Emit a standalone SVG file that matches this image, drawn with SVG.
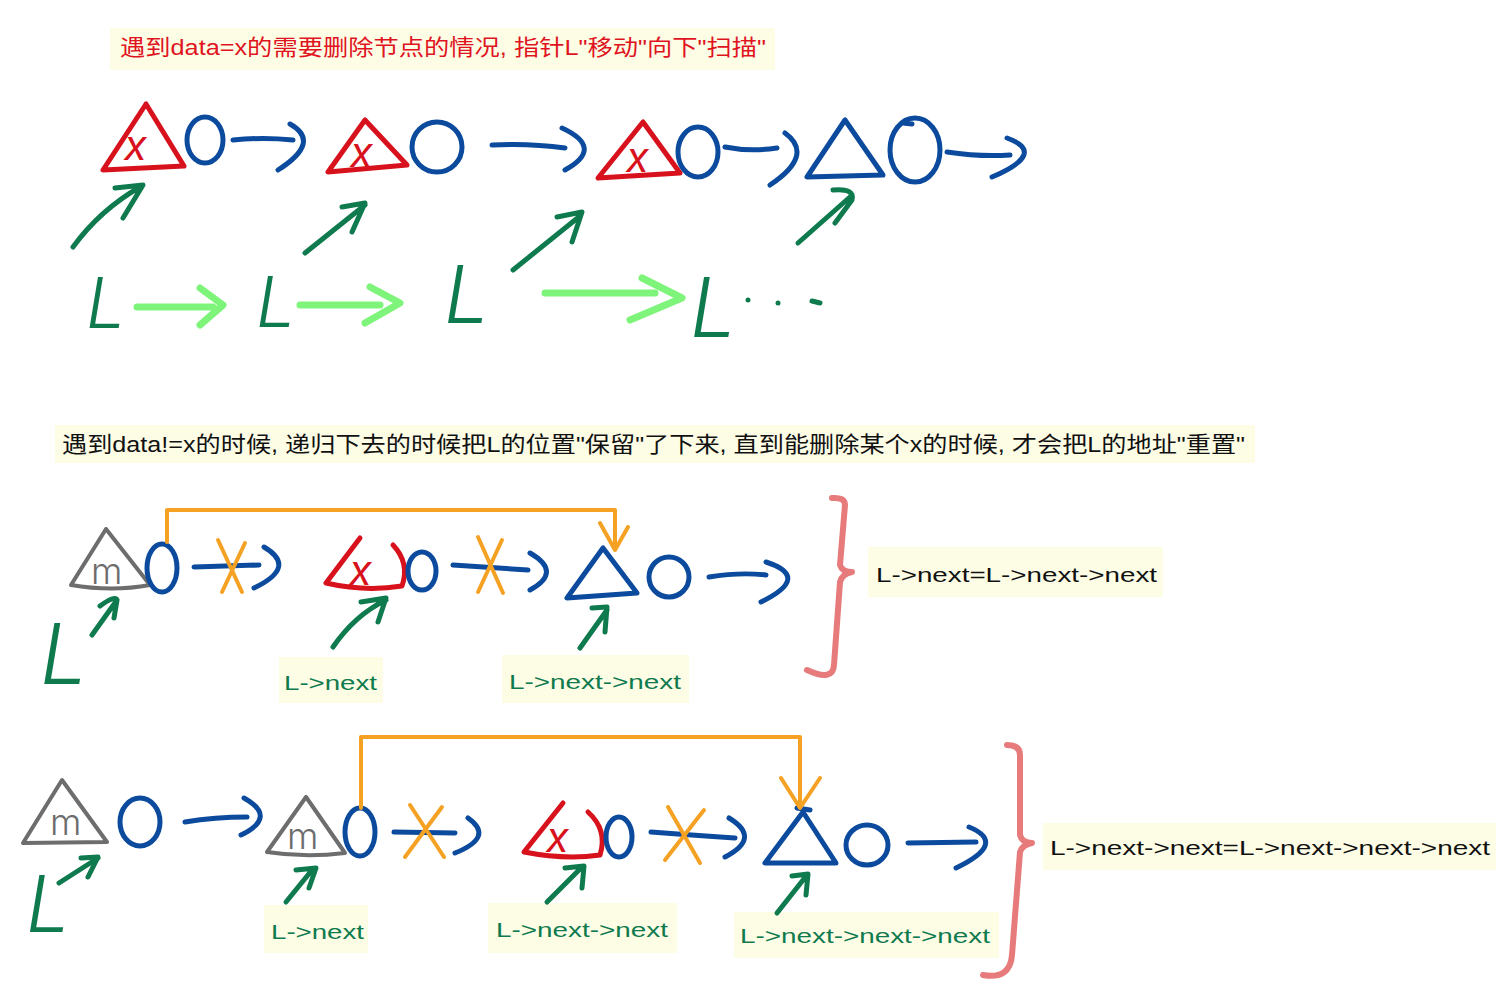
<svg xmlns="http://www.w3.org/2000/svg" width="1496" height="1000" viewBox="0 0 1496 1000">
<style>
.s{fill:none;stroke-linecap:round;stroke-linejoin:round;stroke-width:5}
.b{stroke:#0b4a9c}.r{stroke:#d8121d}.dg{stroke:#0e7a4e}.lg{stroke:#7ef57a;stroke-width:7}
.o{stroke:#f5a224;stroke-width:4}.g{stroke:#6d6d6d;stroke-width:4}.pk{stroke:#e77a7a;stroke-width:6}
.bg{fill:#fdfde6}
.t{font-family:"Liberation Sans","Noto Sans CJK SC",sans-serif;font-size:22px}
.lab{font-family:"Liberation Sans",sans-serif;font-size:21px}
.L{font-family:Inter,"Liberation Sans",sans-serif;font-weight:300;font-style:italic;fill:#0e7a4e}
.xm{font-family:Inter,"Liberation Sans",sans-serif;font-weight:400;font-style:italic;fill:#d8121d;font-size:42px}
.mm{font-family:Inter,"Liberation Sans",sans-serif;font-weight:300;fill:#6d6d6d;font-size:36px}
</style>
<rect width="1496" height="1000" fill="#ffffff"/>

<g id="title1">
<rect class="bg" x="110" y="28" width="665" height="42"/>
<text class="t" x="120" y="55" fill="#e0141e" textLength="646" lengthAdjust="spacingAndGlyphs">遇到data=x的需要删除节点的情况, 指针L"移动"向下"扫描"</text>
</g>
<g id="title2">
<rect class="bg" x="55" y="425" width="1200" height="38"/>
<text class="t" x="62" y="452" fill="#111" textLength="1183" lengthAdjust="spacingAndGlyphs">遇到data!=x的时候, 递归下去的时候把L的位置"保留"了下来, 直到能删除某个x的时候, 才会把L的地址"重置"</text>
</g>

<!-- Row 1 nodes -->
<g id="r1n1"><path class="s r" d="M146,104 L103,170 L184,166 Z"/><text class="xm" x="124" y="160">x</text><ellipse class="s b" cx="205" cy="140" rx="18" ry="23"/></g>
<g id="r1n2"><path class="s r" d="M365,120 L328,172 L407,165 Z"/><text class="xm" x="350" y="167" font-size="36">x</text><ellipse class="s b" cx="437" cy="147" rx="25" ry="25"/></g>
<g id="r1n3"><path class="s r" d="M643,122 L598,178 L680,173 Z"/><text class="xm" x="626" y="172">x</text><ellipse class="s b" cx="698" cy="152" rx="20" ry="25"/></g>
<g id="r1n4"><path class="s b" d="M845,120 L807,177 L883,175 Z"/><ellipse class="s b" cx="915" cy="150" rx="25" ry="32"/><path class="s b" d="M903,123 L912,124"/></g>
<g id="r1L">
<text class="L" x="86" y="328" font-size="70">L</text>
<text class="L" x="256" y="327" font-size="70">L</text>
<text class="L" x="444" y="323" font-size="80">L</text>
<text class="L" x="690" y="337" font-size="82">L</text>
<circle cx="748" cy="300" r="2.5" fill="#0e7a4e"/><circle cx="778" cy="303" r="2.5" fill="#0e7a4e"/><path class="s dg" d="M812,301 L820,303" stroke-width="4"/>
</g>

<!-- Row 2 nodes -->
<g id="r2n1"><path class="s g" d="M106,529 L71,585 Q112,592 150,585 L106,529"/><text class="mm" x="91" y="584" font-size="34">m</text><ellipse class="s b" cx="162" cy="568" rx="15" ry="24"/></g>
<g id="r2n2"><path class="s r" d="M360,538 L326,583 Q365,592 402,586 Q410,563 393,545"/><text class="xm" x="349" y="585" font-size="36">x</text><ellipse class="s b" cx="422" cy="571" rx="14" ry="19"/></g>
<g id="r2n3"><path class="s b" d="M603,548 L567,598 L637,593 Z"/><ellipse class="s b" cx="669" cy="577" rx="20" ry="20"/></g>
<g id="r2L"><text class="L" x="40" y="684" font-size="84">L</text></g>
<g id="r2lab">
<rect class="bg" x="279" y="657" width="104" height="46"/><text class="lab" x="284" y="690" fill="#0e7a4e" textLength="93" lengthAdjust="spacingAndGlyphs">L->next</text>
<rect class="bg" x="502" y="655" width="187" height="48"/><text class="lab" x="509" y="689" fill="#0e7a4e" textLength="172" lengthAdjust="spacingAndGlyphs">L->next->next</text>
<rect class="bg" x="868" y="547" width="295" height="50"/><text class="lab" x="876" y="582" fill="#111" textLength="281" lengthAdjust="spacingAndGlyphs">L->next=L->next->next</text>
</g>

<!-- Row 3 nodes -->
<g id="r3n1"><path class="s g" d="M62,780 L23,843 L107,842 Z"/><text class="mm" x="50" y="835" font-size="38">m</text><ellipse class="s b" cx="140" cy="822" rx="20" ry="24"/></g>
<g id="r3n2"><path class="s g" d="M306,797 L267,852 Q305,858 345,853 L306,797"/><text class="mm" x="287" y="849" font-size="34">m</text><ellipse class="s b" cx="360" cy="832" rx="15" ry="24"/></g>
<g id="r3n3"><path class="s r" d="M563,803 L524,852 Q565,860 600,855 Q608,830 588,812"/><text class="xm" x="546" y="852" font-size="36">x</text><ellipse class="s b" cx="619" cy="837" rx="13" ry="20"/></g>
<g id="r3n4"><path class="s b" d="M803,812 L765,863 L836,863 Z"/><path class="s b" d="M797,808 L810,810"/><ellipse class="s b" cx="867" cy="845" rx="21" ry="20"/></g>
<g id="r3L"><text class="L" x="26" y="932" font-size="78">L</text></g>
<g id="r3lab">
<rect class="bg" x="264" y="905" width="104" height="48"/><text class="lab" x="271" y="939" fill="#0e7a4e" textLength="93" lengthAdjust="spacingAndGlyphs">L->next</text>
<rect class="bg" x="488" y="903" width="189" height="50"/><text class="lab" x="496" y="937" fill="#0e7a4e" textLength="172" lengthAdjust="spacingAndGlyphs">L->next->next</text>
<rect class="bg" x="734" y="912" width="265" height="46"/><text class="lab" x="740" y="943" fill="#0e7a4e" textLength="250" lengthAdjust="spacingAndGlyphs">L->next->next->next</text>
<rect class="bg" x="1043" y="823" width="453" height="47"/><text class="lab" x="1050" y="855" fill="#111" textLength="440" lengthAdjust="spacingAndGlyphs">L->next->next=L->next->next->next</text>
</g>

<g id="connectors">
<path class="s b" d="M233,140 Q263,137 293,140 M290,124 Q322,142 278,170"/>
<path class="s b" d="M492,145 Q530,143 565,148 M562,128 Q605,148 565,170"/>
<path class="s b" d="M725,147 Q750,152 777,148 M785,133 Q815,155 770,185"/>
<path class="s b" d="M947,152 Q980,157 1010,155 M1007,138 Q1048,153 992,177"/>
<path class="s dg" d="M73,247 Q100,210 140,187 M115,188 L143,185 L123,218"/>
<path class="s dg" d="M305,253 L365,205 M342,207 L365,203 L352,232"/>
<path class="s dg" d="M513,270 L580,216 M557,217 L582,212 L572,242"/>
<path class="s dg" d="M798,243 L850,197 M833,190 Q855,188 852,200 L835,223"/>
<path class="s lg" d="M137,307 L213,307 M200,288 L223,305 L200,325"/>
<path class="s lg" d="M300,305 L380,305 M370,287 L400,303 L365,323"/>
<path class="s lg" d="M545,293 L655,293 M642,278 L682,298 L630,320"/>

<path class="s b" d="M194,567 L259,565 M264,547 Q298,567 254,588"/>
<path class="s b" d="M453,565 L528,570 M530,553 Q563,572 530,590"/>
<path class="s b" d="M709,577 Q740,572 766,575 M766,562 Q812,577 761,602"/>
<path class="s o" d="M218,540 L242,592 M245,543 L222,592"/>
<path class="s o" d="M478,537 L503,593 M502,540 L478,592"/>
<path class="s o" d="M167,542 L167,510 L615,510 L615,548 M600,523 L615,550 L628,527"/>
<path class="s dg" d="M92,635 L117,600 M100,606 Q115,595 117,600 L114,618"/>
<path class="s dg" d="M333,647 Q355,615 386,600 M361,602 L386,598 L378,622"/>
<path class="s dg" d="M580,648 L607,610 M592,608 L607,607 L605,632"/>
<path class="s pk" d="M832,498 Q845,497 845,505 L840,565 Q842,572 852,572 Q842,574 840,582 L834,665 Q833,682 807,670"/>

<path class="s b" d="M185,822 Q215,817 247,817 M244,798 Q278,817 241,835"/>
<path class="s b" d="M394,832 L455,833 M468,818 Q495,837 455,853"/>
<path class="s b" d="M651,832 Q690,835 735,838 M729,818 Q762,838 725,857"/>
<path class="s b" d="M908,843 L976,842 M969,827 Q1008,843 956,868"/>
<path class="s o" d="M410,805 L444,857 M442,807 L405,857"/>
<path class="s o" d="M668,807 L700,863 M704,810 L665,860"/>
<path class="s o" d="M361,808 L361,737 L800,737 L800,808 M781,778 L800,808 L820,778"/>
<path class="s dg" d="M59,883 L98,858 M81,858 L98,857 L88,877"/>
<path class="s dg" d="M286,902 L312,870 M296,870 L316,868 L309,888"/>
<path class="s dg" d="M547,902 L582,867 M565,868 L584,866 L582,888"/>
<path class="s dg" d="M777,913 L807,875 M792,876 L808,874 L806,895"/>
<path class="s pk" d="M1007,745 Q1020,745 1020,755 L1020,835 Q1022,843 1032,843 Q1022,845 1020,852 L1012,955 Q1010,980 983,975"/>
</g>
</svg>
